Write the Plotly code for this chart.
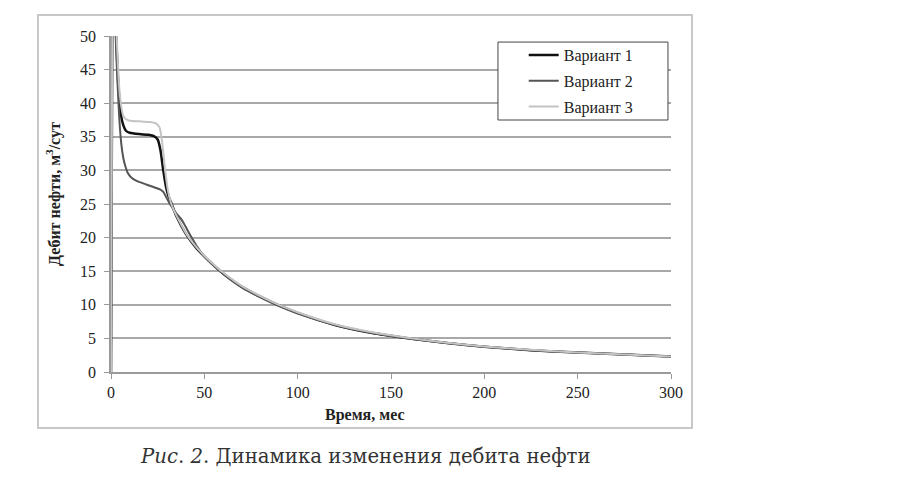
import plotly.graph_objects as go

# ---- data ----
t1 = [0, 1, 2.5, 3.5, 4.5, 5.5, 6.5, 8, 10, 15, 20, 23, 25, 26.5, 28, 29.5, 31, 32.5,
      35, 40, 45, 50, 55, 60, 70, 80, 90, 100, 120, 140, 160, 180, 200, 225, 250, 275, 300]
v1 = [0, 75, 52, 45, 40.5, 38, 36.8, 35.9, 35.6, 35.4, 35.3, 35.1, 34.6, 33, 30, 27.5, 26, 25,
      23.2, 20.6, 18.7, 17.2, 15.9, 14.7, 12.7, 11.2, 9.9, 8.8, 7.0, 5.8, 5.0, 4.3, 3.75, 3.25, 2.9, 2.6, 2.3]

t2 = [0, 1, 2.5, 3.5, 4.5, 5.5, 6.5, 7.5, 9, 11, 14, 18, 22, 26, 28, 30, 32, 35, 38, 40, 43, 46, 50,
      55, 60, 70, 80, 90, 100, 120, 140, 160, 180, 200, 225, 250, 275, 300]
v2 = [0, 75, 50, 43, 37.5, 34, 32, 30.8, 29.6, 28.9, 28.4, 28.0, 27.6, 27.2, 26.8, 25.8, 24.8, 23.6, 22.6, 21.6, 20.1, 18.7, 17.2,
      15.8, 14.6, 12.6, 11.1, 9.8, 8.7, 7.0, 5.8, 4.95, 4.3, 3.75, 3.25, 2.9, 2.6, 2.3]

t3 = [0, 1, 2.5, 3.5, 4.5, 5.5, 6.5, 8, 10, 15, 20, 24, 26, 27.5, 29, 30.5, 32, 33.5,
      35, 40, 45, 50, 55, 60, 70, 80, 90, 100, 120, 140, 160, 180, 200, 225, 250, 275, 300]
v3 = [0, 75, 54, 47, 42, 39.5, 38.2, 37.6, 37.4, 37.3, 37.2, 37.0, 36.4, 34, 30, 27, 25.3, 24.2,
      23.3, 20.7, 18.8, 17.3, 16.0, 14.8, 12.8, 11.3, 10.0, 8.9, 7.1, 5.9, 5.05, 4.35, 3.8, 3.3, 2.9, 2.6, 2.3]

names = ["Вариант 1", "Вариант 2", "Вариант 3"]
colors = ["#111111", "#555555", "#c4c4c4"]
widths = [2.5, 2, 2]

x_ticks = [0, 50, 100, 150, 200, 250, 300]
y_ticks = [0, 5, 10, 15, 20, 25, 30, 35, 40, 45, 50]

SERIF = "Liberation Serif"
TXT = "#222222"

fig = go.Figure()
for i, (t, v, n, c, w) in enumerate(zip([t1, t2, t3], [v1, v2, v3], names, colors, widths)):
    fig.add_trace(go.Scatter(x=t, y=v, name=n, mode="lines", legendgroup="g%d" % i,
                             line=dict(color=c, width=w, shape="spline", smoothing=0.6)))

fig.update_layout(
    width=900, height=479,
    margin=dict(l=111, r=229, t=36, b=107),
    paper_bgcolor="white", plot_bgcolor="white",
    font=dict(family=SERIF, size=16, color=TXT),
    showlegend=True,
    legend=dict(x=0.737, y=0.994, xanchor="left", yanchor="top",
                bgcolor="rgba(0,0,0,0)", borderwidth=0,
                font=dict(family=SERIF, size=16, color=TXT),
                tracegroupgap=2, itemwidth=30),
    xaxis=dict(range=[0, 300], tickvals=x_ticks, showgrid=False, zeroline=False,
               showline=True, linecolor="#9a9a9a", linewidth=1.5,
               ticks="outside", ticklen=5, tickcolor="#9a9a9a",
               tickfont=dict(family=SERIF, size=16, color=TXT)),
    yaxis=dict(range=[0, 50], tickvals=y_ticks, showgrid=True, gridcolor="#a8a8a8", gridwidth=1.5,
               zeroline=False, showline=True, linecolor="#9a9a9a", linewidth=1.5,
               ticks="outside", ticklen=5, tickcolor="#9a9a9a", ticklabelstandoff=5,
               tickfont=dict(family=SERIF, size=16, color=TXT)),
    shapes=[
        dict(type="rect", xref="paper", yref="paper",
             x0=-0.1304, x1=1.0375, y0=-0.1667, y1=1.0625,
             line=dict(color="#c8c8c8", width=2), fillcolor="rgba(0,0,0,0)", layer="below"),
        dict(type="rect", xref="paper", yref="paper",
             x0=0.691, x1=0.9946, y0=0.75, y1=0.982,
             line=dict(color="#444444", width=1), fillcolor="white", layer="above"),
    ],
    annotations=[
        dict(text="<b>Время, мес</b>", xref="paper", yref="paper", x=0.4536, y=-0.128,
             xanchor="center", yanchor="middle", showarrow=False,
             font=dict(family=SERIF, size=16, color=TXT)),
        dict(text="<b>Дебит нефти, м<sup>3</sup>/сут</b>", xref="paper", yref="paper",
             x=-0.1018, y=0.53, xanchor="center", yanchor="middle", textangle=-90, showarrow=False,
             font=dict(family=SERIF, size=16, color=TXT)),
        dict(text="<i>Рис</i>. <i>2</i>. Динамика изменения дебита нефти", xref="paper", yref="paper",
             x=0.4545, y=-0.25, xanchor="center", yanchor="middle", showarrow=False,
             font=dict(family="DejaVu Serif", size=19.7, color="#333333")),
    ],
)

fig.write_html("out.html")
